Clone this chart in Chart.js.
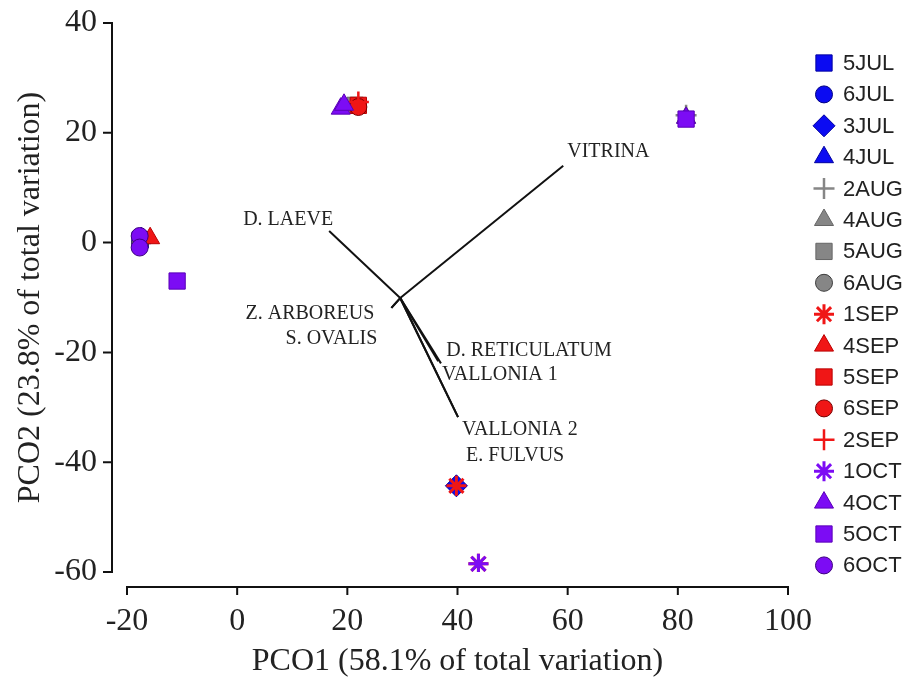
<!DOCTYPE html>
<html>
<head>
<meta charset="utf-8">
<script src="https://cdn.jsdelivr.net/npm/chart.js"></script>
<style>
  html, body { margin: 0; padding: 0; background: #fff; }
  #wrap { width: 906px; height: 684px; }
</style>
</head>
<body>
<div id="wrap"><canvas id="pco" width="906" height="684"></canvas></div>
<script>
// sample groups, in legend order
var groups = ["5JUL", "6JUL", "3JUL", "4JUL", "2AUG", "4AUG", "5AUG", "6AUG", "1SEP",
              "4SEP", "5SEP", "6SEP", "2SEP", "1OCT", "4OCT", "5OCT", "6OCT"];

// PCO scores, one list per group
var pco1 = [[-17.6], [-17.6], [39.8], [-17.4], [81.5], [81.5], [21.4], [-17.6], [39.8, 43.8],
            [-15.8], [22.0], [22.0], [22.0], [43.8], [18.8, 19.4, 81.5], [-10.9, 81.5], [-17.7, -17.7]];
var pco2 = [[0.5], [0.2], [-44.3], [0.8], [23.2], [22.8], [25.0], [0.0], [-44.3, -58.5],
            [0.8], [25.0], [24.7], [25.6], [-58.5], [24.4, 25.1, 22.7], [-7.0, 22.5], [1.2, -0.9]];

// species vectors (end points, all from a common origin)
var species = ["VITRINA", "D. LAEVE", "Z. ARBOREUS", "S. OVALIS", "D. RETICULATUM", "VALLONIA 1", "VALLONIA 2", "E. FULVUS"];
var vecX = [59.2, 16.7, 28.0, 28.0, 36.5, 37.0, 40.1, 40.1];
var vecY = [14.0, 2.1, -11.9, -11.9, -21.6, -22.0, -31.8, -31.8];
var vecOrigin = [29.6, -10.1];

var tickStep = 20;

// styles
var BLUE = "#0b0bf2", GREY = "#868686", RED = "#f01616", PURPLE = "#7c0cf4";
var markStyle = [
  ["rect", BLUE, "#0000a0"], ["circle", BLUE, "#000080"], ["rectRot", BLUE, "#0000a0"], ["triangle", BLUE, "#0000a0"],
  ["cross", GREY], ["triangle", GREY, "#666"], ["rect", GREY, "#666"], ["circle", GREY, "#3c3c3c"],
  ["star", RED], ["triangle", RED, "#b00"], ["rect", RED, "#b00"], ["circle", RED, "#700"], ["cross", RED],
  ["star", PURPLE], ["triangle", PURPLE, "#5a00b8"], ["rect", PURPLE, "#5a00b8"], ["circle", PURPLE, "#3c0080"]
];
var symbolRadius = {rect: 11.5, circle: 8.5, rectRot: 11, triangle: 11, cross: 10.5, star: 10};
// label placement relative to vector tip, in pixels
var labelPlace = [[4, -14, "left"], [4, -11, "right"], [-17, 6, "right"], [-14, 31, "right"],
                  [8, -10, "left"], [1, 11, "left"], [4, 13, "left"], [8, 39, "left"]];

function isLineMark(s) { return s === "cross" || s === "star"; }

var datasets = groups.map(function(g, i){
  var st = markStyle[i];
  var ln = isLineMark(st[0]);
  return {
    label: g,
    data: pco1[i].map(function(x, j){ return {x: x, y: pco2[i][j]}; }),
    pointStyle: st[0],
    pointRadius: symbolRadius[st[0]],
    backgroundColor: st[1],
    borderColor: ln ? st[1] : st[2],
    borderWidth: ln ? (st[0] === "star" ? 3 : 2.5) : 1,
    order: groups.length - i
  };
});

species.forEach(function(s, i){
  datasets.push({
    label: s,
    data: [{x: vecOrigin[0], y: vecOrigin[1]}, {x: vecX[i], y: vecY[i]}],
    showLine: true,
    pointRadius: 0,
    borderColor: "#111",
    borderWidth: 2,
    fill: false,
    order: 100
  });
});

var rangeFrame = {
  id: "rangeFrame",
  afterDraw: function(chart){
    var ctx = chart.ctx, xs = chart.scales.x, ys = chart.scales.y, a = chart.chartArea;
    var axX = a.left - 15, axY = a.bottom + 15;
    ctx.save();
    ctx.strokeStyle = "#111";
    ctx.lineWidth = 2;
    ctx.beginPath();
    ctx.moveTo(axX, ys.getPixelForValue(ys.max));
    ctx.lineTo(axX, ys.getPixelForValue(ys.min));
    ys.ticks.forEach(function(t){
      var p = ys.getPixelForValue(t.value);
      ctx.moveTo(axX + 1, p); ctx.lineTo(axX - 9, p);
    });
    ctx.moveTo(xs.getPixelForValue(xs.min), axY);
    ctx.lineTo(xs.getPixelForValue(xs.max), axY);
    xs.ticks.forEach(function(t){
      var p = xs.getPixelForValue(t.value);
      ctx.moveTo(p, axY - 1); ctx.lineTo(p, axY + 8);
    });
    ctx.stroke();
    ctx.restore();
  }
};

var vectorLabels = {
  id: "vectorLabels",
  afterDatasetsDraw: function(chart){
    var ctx = chart.ctx, xs = chart.scales.x, ys = chart.scales.y;
    ctx.save();
    ctx.fillStyle = "#222";
    ctx.font = '20px "Liberation Serif"';
    ctx.textBaseline = "middle";
    species.forEach(function(s, i){
      var pl = labelPlace[i];
      ctx.textAlign = pl[2];
      ctx.fillText(s, xs.getPixelForValue(vecX[i]) + pl[0], ys.getPixelForValue(vecY[i]) + pl[1]);
    });
    ctx.restore();
  }
};

var sideLegend = {
  id: "sideLegend",
  afterDraw: function(chart){
    var ctx = chart.ctx;
    var top = chart.chartArea.top + 40, step = 31.4, mx = 824, tx = 843;
    groups.forEach(function(g, i){
      var st = markStyle[i], y = top + i * step, ln = isLineMark(st[0]);
      ctx.save();
      ctx.fillStyle = st[1];
      ctx.strokeStyle = ln ? st[1] : st[2];
      ctx.lineWidth = ln ? (st[0] === "star" ? 3 : 2.5) : 1;
      Chart.helpers.drawPoint(ctx, {pointStyle: st[0], radius: symbolRadius[st[0]], rotation: 0,
        borderWidth: ctx.lineWidth}, mx, y);
      ctx.fillStyle = "#222";
      ctx.font = '22px "Liberation Sans"';
      ctx.textBaseline = "middle";
      ctx.textAlign = "left";
      ctx.fillText(g, tx, y + 1);
      ctx.restore();
    });
  }
};

var serif = {family: "Liberation Serif", size: 32};

new Chart(document.getElementById("pco"), {
  type: "scatter",
  data: {datasets: datasets},
  options: {
    responsive: false,
    animation: false,
    events: [],
    layout: {padding: {left: 0, top: 23, right: 118, bottom: 0}},
    plugins: {legend: {display: false}, tooltip: {enabled: false}},
    scales: {
      x: {
        type: "linear", min: -20, max: 100,
        ticks: {stepSize: tickStep, padding: 30, color: "#222", font: serif},
        grid: {display: false, drawTicks: false},
        border: {display: false},
        title: {display: true, text: "PCO1 (58.1% of total variation)", color: "#222", font: serif,
                padding: {top: 0, bottom: 3}},
        afterFit: function(s){ s.height = 112; s.paddingLeft = 0; s.paddingRight = 0; }
      },
      y: {
        type: "linear", min: -60, max: 40,
        ticks: {stepSize: tickStep, padding: 30, color: "#222", font: serif},
        grid: {display: false, drawTicks: false},
        border: {display: false},
        title: {display: true, text: "PCO2 (23.8% of total variation)", color: "#222", font: serif,
                padding: {top: 11, bottom: 0}},
        afterFit: function(s){ s.width = 127; s.paddingTop = 0; s.paddingBottom = 0; }
      }
    }
  },
  plugins: [rangeFrame, vectorLabels, sideLegend]
});
</script>
</body>
</html>
